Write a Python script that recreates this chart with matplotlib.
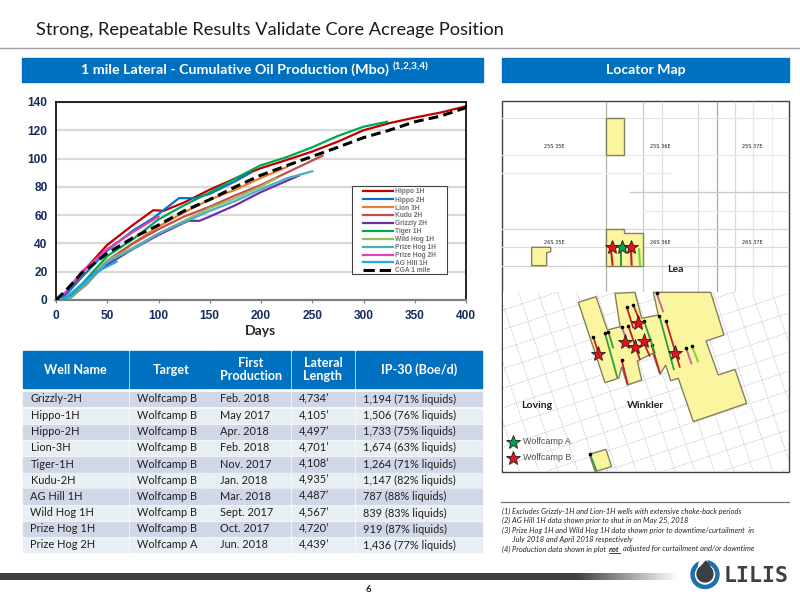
"""
Lilis slide - type curves, well table and locator map
"""

import numpy as np
from matplotlib import pyplot as plt
from matplotlib.colors import LinearSegmentedColormap
from matplotlib.patches import Polygon, Rectangle, Circle


# production curves, (days, Mbo)
hippo_1h_x = [0, 10, 25, 50, 75, 95, 105, 125, 150, 175, 199, 225, 250, 275, 300, 325, 350, 375, 400]
hippo_1h_y = [0, 5, 19, 39, 53, 63.5, 63, 69, 78, 86, 93, 99, 105, 112, 120, 125, 129, 132.5, 137]
hippo_2h_x = [0, 10, 25, 50, 75, 95, 120, 135, 150, 175, 190]
hippo_2h_y = [0, 4, 16, 35, 49, 58, 72, 72, 75, 84, 90]
lion_3h_x = [0, 15, 30, 50, 75, 100, 125, 150, 175, 199, 225]
lion_3h_y = [0, 2, 11, 27, 40, 52, 62, 71, 78, 86, 94]
kudu_2h_x = [0, 15, 30, 50, 75, 100, 125, 150, 175, 199, 225, 260]
kudu_2h_y = [0, 3, 13, 28, 40, 50, 59, 66, 74, 81, 90, 102]
grizzly_2h_x = [0, 15, 30, 50, 75, 100, 129, 140, 150, 175, 199, 237]
grizzly_2h_y = [0, 3, 14, 25, 36, 46, 56, 56, 59, 67, 76, 88]
tiger_1h_x = [0, 15, 30, 50, 75, 100, 125, 150, 175, 199, 225, 250, 275, 300, 323]
tiger_1h_y = [0, 3, 15, 31, 43, 57, 67, 76, 86, 95, 101, 108, 116, 122.5, 126]
wild_hog_1h_x = [0, 15, 30, 50, 75, 100, 125, 150, 175, 199, 215]
wild_hog_1h_y = [0, 2, 12, 28, 37, 47, 56, 65, 72, 80, 86]
prize_hog_1h_x = [0, 15, 30, 50, 75, 100, 125, 150, 175, 199, 225, 250]
prize_hog_1h_y = [0, 2, 12, 27, 36, 47, 55, 63, 70, 78, 86, 91]
prize_hog_2h_x = [0, 10, 25, 50, 75, 100]
prize_hog_2h_y = [0, 6, 20, 36, 48, 59]
ag_hill_1h_x = [0, 10, 25, 40, 59]
ag_hill_1h_y = [0, 2, 11, 20, 27]
cga_x = [0, 10, 25, 50, 75, 100, 125, 150, 175, 199, 225, 250, 275, 300, 325, 350, 375, 400]
cga_y = [0, 7, 19, 33, 44, 53, 63, 71, 80, 88, 95, 101.5, 108, 114.8, 120, 126, 130, 136]

series_names = ['Hippo 1H', 'Hippo 2H', 'Lion 3H', 'Kudu 2H', 'Grizzly 2H', 'Tiger 1H',
                'Wild Hog 1H', 'Prize Hog 1H', 'Prize Hog 2H', 'AG Hill 1H']
series_x = [hippo_1h_x, hippo_2h_x, lion_3h_x, kudu_2h_x, grizzly_2h_x, tiger_1h_x,
            wild_hog_1h_x, prize_hog_1h_x, prize_hog_2h_x, ag_hill_1h_x]
series_y = [hippo_1h_y, hippo_2h_y, lion_3h_y, kudu_2h_y, grizzly_2h_y, tiger_1h_y,
            wild_hog_1h_y, prize_hog_1h_y, prize_hog_2h_y, ag_hill_1h_y]
series_colors = ['#C00000', '#0F6FC0', '#ED7D31', '#C0504D', '#7030A0', '#00A651',
                 '#9BBB59', '#4BACC6', '#E040C0', '#20A8E0']

# well table
table_header = ['Well Name', 'Target', 'First\nProduction', 'Lateral\nLength', 'IP-30 (Boe/d)']
well_names = ['Grizzly-2H', 'Hippo-1H', 'Hippo-2H', 'Lion-3H', 'Tiger-1H', 'Kudu-2H',
              'AG Hill 1H', 'Wild Hog 1H', 'Prize Hog 1H', 'Prize Hog 2H']
targets = ['Wolfcamp B'] * 9 + ['Wolfcamp A']
first_production = ['Feb. 2018', 'May 2017', 'Apr. 2018', 'Feb. 2018', 'Nov. 2017',
                    'Jan. 2018', 'Mar. 2018', 'Sept. 2017', 'Oct. 2017', 'Jun. 2018']
lateral_length = ['4,734’', '4,105’', '4,497’', '4,701’', '4,108’',
                  '4,935’', '4,487’', '4,567’', '4,720’', '4,439’']
ip30 = ['1,194 (71% liquids)', '1,506 (76% liquids)', '1,733 (75% liquids)',
        '1,674 (63% liquids)', '1,264 (71% liquids)', '1,147 (82% liquids)',
        '787 (88% liquids)', '839 (83% liquids)', '919 (87% liquids)', '1,436 (77% liquids)']

footnotes = [
    '(1) Excludes Grizzly-1H and Lion-1H wells with extensive choke-back periods',
    '(2) AG Hill 1H data shown prior to shut in on May 25, 2018',
    '(3) Prize Hog 1H and Wild Hog 1H data shown prior to downtime/curtailment  in',
    '      July 2018 and April 2018 respectively',
]
footnote_last = ['(4) Production data shown in plot', 'not', 'adjusted for curtailment and/or downtime']

# map shapes, traced in pixels of the zoomed crops (3x)
upper_blocks = [
    [(318, 83), (372, 83), (372, 195), (318, 195)],
    [(95, 472), (152, 472), (152, 485), (140, 488), (140, 527), (95, 527)],
    [(318, 418), (372, 418), (372, 430), (428, 430), (428, 527), (318, 527)],
]
upper_wells = [
    (333, 480, 338, 527, '#C0202A'), (363, 480, 363, 527, '#2E9E3E'),
    (393, 480, 395, 527, '#C0202A'), (417, 475, 420, 527, '#66DD33'),
]
upper_stars = [(337, 472, '#E8101A'), (365, 472, '#00A050'), (392, 472, '#E8101A')]
vertical_lines = [(318, '#B0B0B0'), (428, '#C8C8C8'), (485, '#E0E0E0'), (595, '#D8D8D8'),
                  (650, '#A8A8A8'), (705, '#D8D8D8'), (760, '#E4E4E4'), (815, '#F0F0F0')]
horizontal_lines = [(83, 5, 865, '#E4E4E4'), (195, 5, 865, '#E8E8E8'), (250, 5, 510, '#EEEEEE'),
                    (307, 390, 865, '#C8C8C8'), (362, 430, 865, '#E8E8E8'), (418, 5, 865, '#D8D8D8'),
                    (472, 5, 865, '#DCDCDC'), (527, 5, 865, '#D0D0D0')]
lower_blocks = [
    [(235, 52), (288, 35), (322, 135), (360, 125), (345, 25), (405, 22), (425, 100), (475, 90),
     (460, 22), (632, 22), (672, 150), (618, 168), (655, 270), (705, 253), (740, 355), (580, 410),
     (535, 280), (512, 287), (497, 240), (480, 268), (458, 205), (412, 228), (425, 285), (382, 300),
     (365, 245), (357, 279), (315, 293)],
    [(268, 508), (318, 493), (335, 545), (285, 560)],
]
lower_wells = [
    (280, 155, 295, 205, '#C0202A'), (380, 65, 400, 130, '#C0202A'), (400, 60, 420, 110, '#C0202A'),
    (385, 122, 420, 225, '#C0202A'), (365, 225, 383, 298, '#C0202A'), (498, 108, 540, 248, '#C0202A'),
    (455, 180, 480, 265, '#C0202A'), (430, 170, 450, 215, '#C0202A'),
    (315, 145, 352, 278, '#2E9E3E'), (325, 140, 340, 190, '#2E9E3E'), (478, 92, 522, 255, '#2E9E3E'),
    (432, 108, 465, 205, '#2E9E3E'), (270, 508, 290, 558, '#2E9E3E'),
    (470, 25, 490, 82, '#C060A8'), (365, 125, 378, 160, '#C060A8'), (558, 188, 575, 238, '#C060A8'),
    (575, 182, 595, 232, '#66DD33'),
]
lower_stars = [(415, 115), (375, 170), (405, 185), (432, 168), (295, 208), (525, 203)]
township_labels = [(162, 170, '25S 35E'), (482, 170, '25S 36E'), (757, 170, '25S 37E'),
                   (162, 458, '26S 35E'), (482, 458, '26S 36E'), (757, 458, '26S 37E')]

BLUE = '#0070C0'
LATO = 'Lato'
ARIAL = 'Liberation Sans'


def up(p):
    return (500 + p[0] / 3, 90 + p[1] / 3)


def low(p):
    return (500 + p[0] / 3, 285 + p[1] / 3)


def px(ax, x, y, s, size_px, **kw):
    kw.setdefault('family', LATO)
    kw.setdefault('va', 'center')
    ax.text(x, y, s, fontsize=size_px * 0.72, **kw)


def draw_frame(bg):
    px(bg, 36, 30, 'Strong, Repeatable Results Validate Core Acreage Position', 18.3, color='#1A1A1A')
    bg.plot([0, 800], [48, 48], color='#A0A0A0', lw=1)

    bg.add_patch(Rectangle((22, 58), 461, 24, color=BLUE))
    bg.add_patch(Rectangle((502, 58), 287, 24, color=BLUE))
    px(bg, 389, 70, '1 mile Lateral - Cumulative Oil Production (Mbo)', 14.3,
       color='white', weight='bold', ha='right')
    px(bg, 393, 67, '(1,2,3,4)', 10, color='white', weight='bold')
    px(bg, 646, 70, 'Locator Map', 14, color='white', weight='bold', ha='center')
    px(bg, 260, 331, 'Days', 14, color='#262626', weight='bold', ha='center')

    # footer
    cmap = LinearSegmentedColormap.from_list('bar', [(0, '#404040'), (0.85, '#404040'), (1, '#FFFFFF')])
    grad = np.linspace(0, 1, 512).reshape(1, -1)
    bg.imshow(grad, extent=(0, 680, 580, 573), cmap=cmap, aspect='auto', zorder=1)
    bg.set_xlim(0, 800)
    bg.set_ylim(600, 0)
    px(bg, 369, 590, '6', 10, color='#262626', weight='bold', ha='center')

    # logo
    bg.add_patch(Circle((705, 574.5), 14, color='#1F6FA8', zorder=2))
    bg.add_patch(Circle((705, 574.5), 9.5, color='white', zorder=3))
    bg.add_patch(Polygon([(700, 558), (707, 558), (707, 562), (698, 570)], color='white', zorder=3))
    bg.add_patch(Circle((705, 574), 8, color='#3A3F45', zorder=4))
    bg.add_patch(Polygon([(706, 561), (698, 570), (712.5, 571)], color='#3A3F45', zorder=4))
    px(bg, 724, 576, 'LILIS', 21.5, family='DejaVu Sans Mono', color='#404040', weight='bold')

    # footnotes
    bg.plot([501, 789], [502, 502], color='#707070', lw=0.9)
    note_y = [511, 520.5, 530, 539.5]
    for y, note in zip(note_y, footnotes):
        px(bg, 502, y, note, 7.5, style='italic', color='#262626')
    px(bg, 502, 549, footnote_last[0], 7.5, style='italic', color='#262626')
    px(bg, 609, 549, footnote_last[1], 7.5, style='italic', weight='bold', color='#262626')
    bg.plot([609, 620], [553, 553], color='#262626', lw=0.6)
    px(bg, 622.7, 549, footnote_last[2], 7.5, style='italic', color='#262626')


def draw_table(bg):
    col_x = [(22.7, 128), (130, 212), (213, 290), (292, 354), (356, 482)]
    header_cx = [75, 171, 251, 323, 419]
    text_x = [30.5, 137, 220, 299, 363]
    for (x0, x1), cx, head in zip(col_x, header_cx, table_header):
        bg.add_patch(Rectangle((x0, 351), x1 - x0, 37, color=BLUE))
        px(bg, cx, 369.5, head, 12.6, color='white', weight='bold', ha='center', linespacing=1.05)

    row_y = [399, 415.7, 431.7, 447.7, 464.3, 480.3, 496.3, 513, 529, 545]
    columns = [well_names, targets, first_production, lateral_length, ip30]
    for i, y in enumerate(row_y):
        fill = '#D0D8E8' if i % 2 == 0 else '#E9EDF4'
        for (x0, x1), tx, col in zip(col_x, text_x, columns):
            bg.add_patch(Rectangle((x0, y - 7.2), x1 - x0, 14.4, color=fill))
            px(bg, tx, y, col[i], 11, color='#1F1F1F')


def draw_map(bg):
    bg.add_patch(Rectangle((502, 101), 287, 371, fc='white', ec='#404040', lw=1, zorder=2))
    clip_low = Rectangle((503, 292), 285, 179, transform=bg.transData)

    # township grid, upper part
    for zx, c in vertical_lines:
        x = up((zx, 0))[0]
        bg.plot([x, x], [102, 292], color=c, lw=0.9, zorder=3)
    for zy, z0, z1, c in horizontal_lines:
        y = up((0, zy))[1]
        bg.plot([up((z0, 0))[0], up((z1, 0))[0]], [y, y], color=c, lw=0.9, zorder=3)
    bg.add_patch(Rectangle((503, 292), 285, 179, fc='white', ec='none', zorder=3))

    # rotated section grid, lower part
    u = np.array([0.315, 0.949])
    v = np.array([0.949, -0.315])
    origin = np.array([645, 380])
    for k in np.arange(-12, 13):
        for a, b in ((u, v), (v, u)):
            mid = origin + b * k * 18.5
            seg = np.array([mid - a * 260, mid + a * 260])
            ln, = bg.plot(seg[:, 0], seg[:, 1], color='#BEBEBE', lw=0.6, ls=(0, (1.5, 1.5)), zorder=3)
            ln.set_clip_path(clip_low)

    for block in upper_blocks:
        bg.add_patch(Polygon([up(p) for p in block], fc='#FBF5A0', ec='#85805A', lw=1, zorder=4))
    for block in lower_blocks:
        bg.add_patch(Polygon([low(p) for p in block], fc='#FBF5A0', ec='#85805A', lw=1, zorder=4))

    for x0, y0, x1, y1, c in upper_wells:
        a, b = up((x0, y0)), up((x1, y1))
        bg.plot([a[0], b[0]], [a[1], b[1]], color=c, lw=1.5, zorder=5, solid_capstyle='butt')
    for x0, y0, x1, y1, c in lower_wells:
        a, b = low((x0, y0)), low((x1, y1))
        bg.plot([a[0], b[0]], [a[1], b[1]], color=c, lw=1.3, zorder=5, solid_capstyle='butt')
        bg.plot([a[0]], [a[1]], 'o', color='black', ms=1.6, zorder=5)

    for x, y, c in upper_stars:
        p = up((x, y))
        bg.plot(*p, marker='*', ms=10, mfc=c, mec='#202020', mew=0.6, zorder=6)
    for s in lower_stars:
        p = low(s)
        bg.plot(*p, marker='*', ms=11, mfc='#E8101A', mec='#202020', mew=0.6, zorder=6)

    for x, y, name in township_labels:
        p = up((x, y))
        px(bg, p[0], p[1], name, 5, family='DejaVu Sans', color='#202020', ha='center', zorder=5)

    px(bg, 675, 269.5, 'Lea', 10.5, weight='bold', color='#202020', ha='center', zorder=6)
    px(bg, 537, 406, 'Loving', 10.5, weight='bold', color='#202020', ha='center', zorder=6)
    px(bg, 646, 406, 'Winkler', 10.5, weight='bold', color='#202020', ha='center', zorder=6)

    bg.plot(513, 442, marker='*', ms=10.5, mfc='#00A050', mec='#202020', mew=0.6, zorder=6)
    bg.plot(513, 458, marker='*', ms=10.5, mfc='#E8101A', mec='#202020', mew=0.6, zorder=6)
    px(bg, 523, 442, 'Wolfcamp A', 9, family=ARIAL, color='#505050', zorder=6)
    px(bg, 523, 458, 'Wolfcamp B', 9, family=ARIAL, color='#505050', zorder=6)


def draw_chart(fig):
    ax = fig.add_axes([56 / 800, 1 - 300 / 600, 410 / 800, 198 / 600])
    ax.set_xlim(0, 400)
    ax.set_ylim(0, 140)
    ax.set_xticks(np.arange(0, 401, 50))
    ax.set_yticks(np.arange(0, 141, 20))
    ax.grid(axis='y', color='#D9D9D9', lw=1.6)
    ax.set_axisbelow(True)
    for side in ('left', 'top', 'right'):
        ax.spines[side].set_color('black')
        ax.spines[side].set_linewidth(1.2)
    ax.spines['bottom'].set_color('#808080')
    ax.spines['bottom'].set_linewidth(1.6)
    ax.tick_params(axis='x', length=2, color='#808080', pad=5)
    ax.tick_params(axis='y', length=0, pad=6)
    for lab in ax.get_xticklabels() + ax.get_yticklabels():
        lab.set_fontfamily(ARIAL)
        lab.set_fontweight('bold')
        lab.set_fontsize(8.6)
        lab.set_color('#172B5C')

    for name, x, y, c in zip(series_names, series_x, series_y, series_colors):
        ax.plot(x, y, color=c, lw=1.6, label=name, clip_on=False)
    ax.plot(cga_x, cga_y, color='black', lw=2.2, ls=(0, (3.2, 1.7)), label='CGA 1 mile', zorder=5)

    # legend box has a wide left margin, so it is drawn by hand on a clear layer
    fg = fig.add_axes([0, 0, 1, 1])
    fg.set_xlim(0, 800)
    fg.set_ylim(600, 0)
    fg.axis('off')
    fg.patch.set_alpha(0)
    fg.add_patch(Rectangle((352, 186), 95, 88, fc='white', ec='#404040', lw=0.8))
    handles, labels = ax.get_legend_handles_labels()
    row_y = [191, 199.3, 207.3, 215, 222.7, 230.7, 238.7, 246.7, 254.7, 262.3, 270]
    for y, h, name in zip(row_y, handles, labels):
        fg.plot([363, 393], [y, y], color=h.get_color(), lw=h.get_linewidth(), ls=h.get_linestyle())
        px(fg, 395, y + 0.8, name, 6.6, family=ARIAL, weight='bold', color='#707070')


def main():
    fig = plt.figure(figsize=(8, 6), dpi=100, facecolor='white')
    bg = fig.add_axes([0, 0, 1, 1])
    bg.set_xlim(0, 800)
    bg.set_ylim(600, 0)
    bg.axis('off')

    draw_frame(bg)
    draw_table(bg)
    draw_map(bg)
    draw_chart(fig)

    fig.savefig('out.png', dpi=100)


if __name__ == '__main__':
    main()
